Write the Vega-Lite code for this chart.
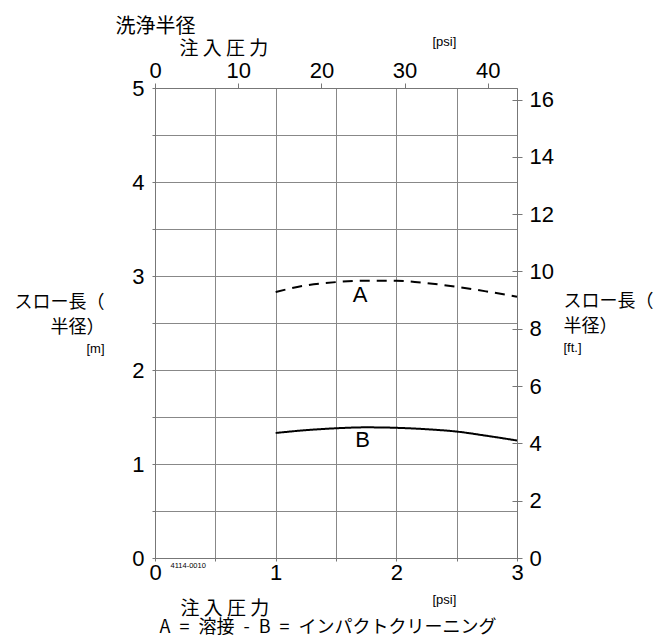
{
  "$schema": "https://vega.github.io/schema/vega-lite/v6.json",
  "width": 362,
  "height": 470,
  "autosize": "none",
  "padding": {"left": 155, "top": 88, "right": 143, "bottom": 79},
  "background": "white",
  "config": {
    "view": {"stroke": null},
    "axis": {
      "labelFont": "Liberation Sans",
      "labelFontSize": 22,
      "labelColor": "#000",
      "labelFlush": false,
      "titleFont": "Noto Sans CJK JP",
      "titleFontWeight": "normal",
      "titleColor": "#000",
      "domainColor": "#777",
      "tickColor": "#777",
      "gridColor": "#888",
      "gridWidth": 1,
      "titleAngle": 0,
      "titleBaseline": "alphabetic",
      "titleAnchor": "start"
    }
  },
  "datasets": {
    "curves": [
      {"series": "A", "bar": 1.0, "m": 2.83},
      {"series": "A", "bar": 1.25, "m": 2.9},
      {"series": "A", "bar": 1.5, "m": 2.935},
      {"series": "A", "bar": 1.75, "m": 2.95},
      {"series": "A", "bar": 2.0, "m": 2.95},
      {"series": "A", "bar": 2.25, "m": 2.925},
      {"series": "A", "bar": 2.5, "m": 2.885},
      {"series": "A", "bar": 2.75, "m": 2.835},
      {"series": "A", "bar": 3.0, "m": 2.78},
      {"series": "B", "bar": 1.0, "m": 1.33},
      {"series": "B", "bar": 1.25, "m": 1.36},
      {"series": "B", "bar": 1.5, "m": 1.38},
      {"series": "B", "bar": 1.75, "m": 1.39},
      {"series": "B", "bar": 2.0, "m": 1.385},
      {"series": "B", "bar": 2.25, "m": 1.37},
      {"series": "B", "bar": 2.5, "m": 1.345},
      {"series": "B", "bar": 2.75, "m": 1.3},
      {"series": "B", "bar": 3.0, "m": 1.25}
    ],
    "labels": [
      {"label": "A", "bar": 1.7, "m": 2.8},
      {"label": "B", "bar": 1.72, "m": 1.255}
    ],
    "axes": [{"psi": 0, "ft": 0}]
  },
  "layer": [
    {
      "data": {"name": "curves"},
      "encoding": {
        "x": {
          "field": "bar", "type": "quantitative",
          "scale": {"domain": [0, 3], "nice": false, "zero": false},
          "axis": {
            "orient": "bottom",
            "values": [0, 0.5, 1, 1.5, 2, 2.5, 3],
            "labelExpr": "datum.value % 1 === 0 ? format(datum.value, 'd') : ''",
            "grid": true, "tickSize": 3, "labelPadding": 1,
            "title": "注 入 圧 力", "titleFontSize": 19,
            "titleX": 25, "titleY": 56, "titleAlign": "left"
          }
        },
        "y": {
          "field": "m", "type": "quantitative",
          "scale": {"domain": [0, 5], "nice": false, "zero": false},
          "axis": {
            "orient": "left",
            "values": [0, 0.5, 1, 1.5, 2, 2.5, 3, 3.5, 4, 4.5, 5],
            "labelExpr": "datum.value % 1 === 0 ? format(datum.value, 'd') : ''",
            "grid": true, "tickSize": 3, "labelPadding": 8,
            "title": ["スロー長（", "半径）"], "titleFontSize": 18, "titleLineHeight": 25,
            "titleX": -51, "titleY": 219, "titleAlign": "right"
          }
        }
      },
      "layer": [
        {
          "mark": {"type": "line", "interpolate": "monotone", "strokeWidth": 2, "color": "#000"},
          "encoding": {
            "detail": {"field": "series", "type": "nominal"},
            "strokeDash": {
              "field": "series", "type": "nominal",
              "scale": {"domain": ["A", "B"], "range": [[10, 7], [1, 0]]},
              "legend": null
            }
          }
        },
        {
          "data": {"name": "labels"},
          "mark": {"type": "text", "font": "Liberation Sans", "fontSize": 22, "color": "#000", "baseline": "middle"},
          "encoding": {"text": {"field": "label", "type": "nominal"}}
        }
      ]
    },
    {
      "data": {"name": "axes"},
      "mark": {"type": "point", "opacity": 0},
      "encoding": {
        "x": {
          "field": "psi", "type": "quantitative",
          "scale": {"domain": [0, 43.5113], "nice": false, "zero": false},
          "axis": {
            "orient": "top", "values": [0, 10, 20, 30, 40],
            "grid": false, "tickSize": 5, "labelPadding": 0.5,
            "title": "注 入 圧 力", "titleFontSize": 19,
            "titleX": 24, "titleY": -34, "titleAlign": "left"
          }
        },
        "y": {
          "field": "ft", "type": "quantitative",
          "scale": {"domain": [0, 16.4042], "nice": false, "zero": false},
          "axis": {
            "orient": "right", "values": [0, 2, 4, 6, 8, 10, 12, 14, 16],
            "grid": false, "tickSize": 5, "labelPadding": 7,
            "title": ["スロー長（", "半径）"], "titleFontSize": 18, "titleLineHeight": 25,
            "titleX": 46, "titleY": 218, "titleAlign": "left"
          }
        }
      }
    },
    {
      "data": {"name": "axes"},
      "mark": {"type": "point", "opacity": 0},
      "encoding": {
        "x": {
          "field": "psi", "type": "quantitative", "scale": {"domain": [0, 1]},
          "axis": {
            "orient": "top", "labels": false, "ticks": false, "domain": false, "grid": false,
            "title": "洗浄半径", "titleFontSize": 20,
            "titleX": -40, "titleY": -55.4, "titleAlign": "left"
          }
        },
        "y": {
          "field": "ft", "type": "quantitative", "scale": {"domain": [0, 1]},
          "axis": {
            "orient": "left", "labels": false, "ticks": false, "domain": false, "grid": false,
            "title": "[m]", "titleFont": "Liberation Sans", "titleFontSize": 13,
            "titleX": -51, "titleY": 264, "titleAlign": "right"
          }
        }
      }
    },
    {
      "data": {"name": "axes"},
      "mark": {"type": "point", "opacity": 0},
      "encoding": {
        "x": {
          "field": "psi", "type": "quantitative", "scale": {"domain": [0, 1]},
          "axis": {
            "orient": "bottom", "labels": false, "ticks": false, "domain": false, "grid": false,
            "title": "A\u2002=\u2002溶接\u2002-\u2002B\u2002=\u2002インパクトクリーニング", "titleFontSize": 18,
            "titleX": 4, "titleY": 74, "titleAlign": "left"
          }
        },
        "y": {
          "field": "ft", "type": "quantitative",
          "scale": {"domain": [0, 16.4042], "nice": false, "zero": false},
          "axis": {
            "orient": "right", "values": [0, 2, 4, 6, 8, 10, 12, 14, 16],
            "labels": false, "ticks": true, "tickSize": -5, "domain": false, "grid": false,
            "title": "[ft.]", "titleFont": "Liberation Sans", "titleFontSize": 13,
            "titleX": 46, "titleY": 263, "titleAlign": "left"
          }
        }
      }
    },
    {
      "data": {"name": "axes"},
      "mark": {"type": "point", "opacity": 0},
      "encoding": {
        "x": {
          "field": "psi", "type": "quantitative", "scale": {"domain": [0, 1]},
          "axis": {
            "orient": "bottom", "labels": false, "ticks": false, "domain": false, "grid": false,
            "title": "[psi]", "titleFont": "Liberation Sans", "titleFontSize": 13,
            "titleX": 277, "titleY": 45, "titleAlign": "left"
          }
        },
        "y": {
          "field": "ft", "type": "quantitative", "scale": {"domain": [0, 1]},
          "axis": {
            "orient": "left", "labels": false, "ticks": false, "domain": false, "grid": false,
            "title": "4114-0010", "titleFont": "Liberation Sans", "titleFontSize": 7.5,
            "titleX": 15, "titleY": 479.5, "titleAlign": "left"
          }
        }
      }
    },
    {
      "data": {"name": "axes"},
      "mark": {"type": "point", "opacity": 0},
      "encoding": {
        "x": {
          "field": "psi", "type": "quantitative", "scale": {"domain": [0, 1]},
          "axis": {
            "orient": "top", "labels": false, "ticks": false, "domain": false, "grid": false,
            "title": "[psi]", "titleFont": "Liberation Sans", "titleFontSize": 13,
            "titleX": 277, "titleY": -43, "titleAlign": "left"
          }
        },
        "y": {
          "field": "ft", "type": "quantitative", "scale": {"domain": [0, 1]},
          "axis": null
        }
      }
    }
  ],
  "resolve": {"scale": {"x": "independent", "y": "independent"}}
}
